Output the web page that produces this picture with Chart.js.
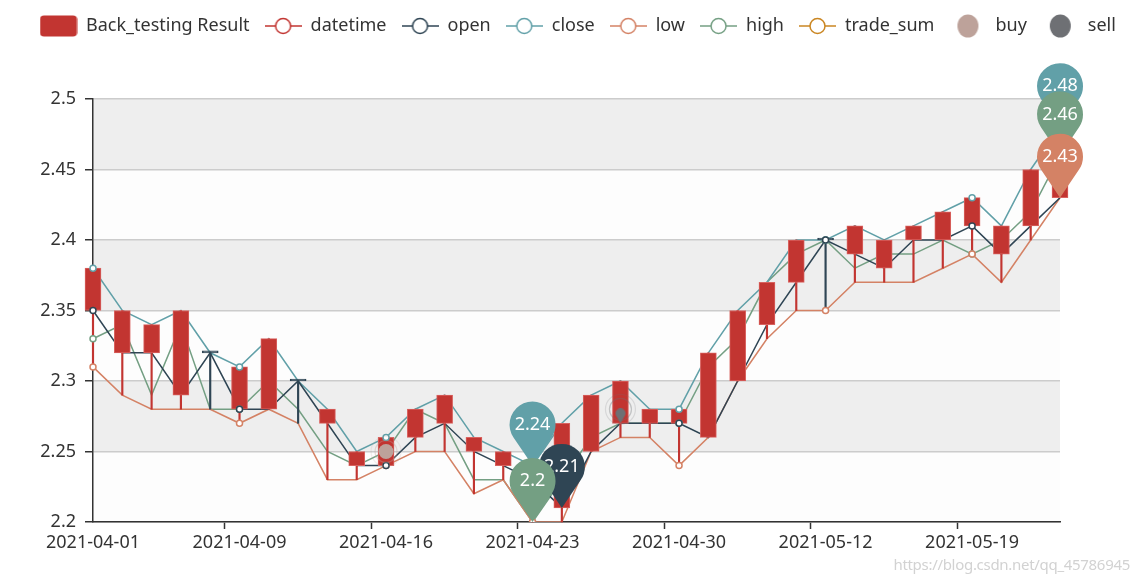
<!DOCTYPE html>
<html>
<head>
<meta charset="utf-8">
<title>Back_testing Result</title>
<script src="https://cdn.jsdelivr.net/npm/chart.js@4.4.1/dist/chart.umd.min.js"></script>
<style>
  html, body { margin: 0; padding: 0; background: #fff; }
  #wrap { position: relative; width: 1138px; height: 583px; }
  #watermark { position: absolute; right: 8px; bottom: 9px; font: 15px "Noto Sans", sans-serif; color: #d2d2d2; letter-spacing: -0.3px; }
</style>
</head>
<body>
<div id="wrap">
  <canvas id="kline" width="1138" height="583"></canvas>
  <div id="watermark">https://blog.csdn.net/qq_45786945</div>
</div>
<script>
// trading days
const dates = ['2021-04-01', '2021-04-02', '2021-04-06', '2021-04-07', '2021-04-08', '2021-04-09',
  '2021-04-12', '2021-04-13', '2021-04-14', '2021-04-15', '2021-04-16',
  '2021-04-19', '2021-04-20', '2021-04-21', '2021-04-22', '2021-04-23',
  '2021-04-26', '2021-04-27', '2021-04-28', '2021-04-29', '2021-04-30',
  '2021-05-06', '2021-05-07', '2021-05-10', '2021-05-11', '2021-05-12',
  '2021-05-13', '2021-05-14', '2021-05-17', '2021-05-18', '2021-05-19',
  '2021-05-20', '2021-05-21', '2021-05-24'];

const openPrices = [2.35, 2.32, 2.32, 2.29, 2.32, 2.28, 2.28, 2.30, 2.27, 2.24, 2.24,
  2.26, 2.27, 2.25, 2.24, 2.23, 2.21, 2.25, 2.27, 2.27, 2.27,
  2.26, 2.30, 2.34, 2.37, 2.40, 2.39, 2.38, 2.40, 2.40, 2.41, 2.39, 2.41, 2.43];
const closePrices = [2.38, 2.35, 2.34, 2.35, 2.32, 2.31, 2.33, 2.30, 2.28, 2.25, 2.26,
  2.28, 2.29, 2.26, 2.25, 2.24, 2.27, 2.29, 2.30, 2.28, 2.28,
  2.32, 2.35, 2.37, 2.40, 2.40, 2.41, 2.40, 2.41, 2.42, 2.43, 2.41, 2.45, 2.48];
const lowPrices = [2.31, 2.29, 2.28, 2.28, 2.28, 2.27, 2.28, 2.27, 2.23, 2.23, 2.24,
  2.25, 2.25, 2.22, 2.23, 2.20, 2.20, 2.25, 2.26, 2.26, 2.24,
  2.26, 2.30, 2.33, 2.35, 2.35, 2.37, 2.37, 2.37, 2.38, 2.39, 2.37, 2.40, 2.43];
const highPrices = [2.33, 2.34, 2.29, 2.34, 2.28, 2.28, 2.30, 2.28, 2.25, 2.24, 2.25,
  2.28, 2.27, 2.23, 2.23, 2.20, 2.23, 2.26, 2.27, 2.27, 2.27,
  2.31, 2.33, 2.37, 2.39, 2.40, 2.38, 2.39, 2.39, 2.40, 2.39, 2.40, 2.42, 2.46];

const buyDates = ['2021-04-16'];
const buyPrices = [2.25];
const sellDates = ['2021-04-28'];
const sellPrices = [2.27];

const yTicks = [2.2, 2.25, 2.3, 2.35, 2.4, 2.45, 2.5];

const FONT = '"Noto Sans", "Open Sans", sans-serif';
const UP = '#c23531';
const DOWN = '#2f4554';
const C_OPEN = '#2f4554', C_CLOSE = '#61a0a8', C_LOW = '#d48265', C_HIGH = '#749f83';
const C_DATE = '#c23531', C_SUM = '#ca8622', C_BUY = '#bda29a', C_SELL = '#6e7074';

// candle pieces built from the price arrays
const candleColors = openPrices.map((o, i) => closePrices[i] > o ? UP : DOWN);
const bodies = openPrices.map((o, i) => [o, closePrices[i]]);
const wicks = openPrices.map((o, i) => [
  Math.min(lowPrices[i], o, closePrices[i]),
  Math.max(highPrices[i], o, closePrices[i])
]);

function onDates(list, values) {
  return dates.map(d => {
    const k = list.indexOf(d);
    return k >= 0 ? values[k] : null;
  });
}

function drawPin(ctx, x, tipY, r, d, color) {
  const cy = tipY - d;
  const phi = Math.acos(r / d);
  ctx.beginPath();
  ctx.moveTo(x, tipY);
  ctx.arc(x, cy, r, Math.PI / 2 + phi, Math.PI / 2 - phi + Math.PI * 2);
  ctx.closePath();
  ctx.fillStyle = color;
  ctx.fill();
}

// legend icons
function lineIcon(color) {
  const c = document.createElement('canvas');
  c.width = 37; c.height = 20;
  const g = c.getContext('2d');
  g.strokeStyle = color;
  g.lineWidth = 1.5;
  g.beginPath(); g.moveTo(0, 10); g.lineTo(37, 10); g.stroke();
  g.beginPath(); g.arc(18.5, 10, 7.5, 0, Math.PI * 2);
  g.fillStyle = '#fff'; g.fill(); g.stroke();
  return c;
}
function rectIcon(color) {
  const c = document.createElement('canvas');
  c.width = 38; c.height = 22;
  const g = c.getContext('2d');
  g.fillStyle = color;
  g.beginPath();
  g.roundRect(0.5, 0.5, 37, 21, 4);
  g.fill();
  return c;
}
function dotIcon(color) {
  const c = document.createElement('canvas');
  c.width = 37; c.height = 24;
  const g = c.getContext('2d');
  g.fillStyle = color;
  g.beginPath(); g.ellipse(18.5, 12, 10.5, 11.5, 0, 0, Math.PI * 2); g.fill();
  return c;
}
function smallPin(color) {
  // tip sits at the canvas centre, so the image lands its tip on the data point
  const c = document.createElement('canvas');
  c.width = 14; c.height = 30;
  drawPin(c.getContext('2d'), 7, 15, 5, 10, color);
  return c;
}

const symbolRadius = ctx => ctx.dataIndex % 5 === 0 ? 3 : 0;

function lineSet(label, values, color) {
  return { type: 'line', label: label, data: values, borderColor: color, borderWidth: 1.5,
    pointRadius: 0, tension: 0, order: 3, legendIcon: lineIcon(color) };
}
function symbolSet(values, color) {
  return { type: 'line', label: '', data: values, showLine: false, pointRadius: symbolRadius,
    pointBackgroundColor: '#fff', pointBorderColor: color, pointBorderWidth: 1.5, order: -1 };
}

const datasets = [
  { type: 'bar', label: 'Back_testing Result', data: bodies, grouped: false, barThickness: 16,
    backgroundColor: candleColors, borderColor: candleColors.map(c => c === UP ? '#d9625f' : DOWN),
    borderWidth: 1, borderSkipped: false, minBarLength: 2, clip: false, order: 0,
    legendIcon: rectIcon(UP) },
  { type: 'line', label: 'datetime', data: [], borderColor: C_DATE, order: 5, legendIcon: lineIcon(C_DATE) },
  lineSet('open', openPrices, C_OPEN),
  lineSet('close', closePrices, C_CLOSE),
  lineSet('low', lowPrices, C_LOW),
  lineSet('high', highPrices, C_HIGH),
  { type: 'line', label: 'trade_sum', data: [], borderColor: C_SUM, order: 5, legendIcon: lineIcon(C_SUM) },
  { type: 'line', label: 'buy', data: onDates(buyDates, buyPrices), showLine: false, pointRadius: 7.5,
    pointBackgroundColor: C_BUY, pointBorderWidth: 0, order: -3, legendIcon: dotIcon(C_BUY) },
  { type: 'line', label: 'sell', data: onDates(sellDates, sellPrices), showLine: false, pointRadius: 5,
    pointStyle: smallPin(C_SELL), order: -3, legendIcon: dotIcon(C_SELL) },
  // wicks and series symbols (not in legend)
  { type: 'bar', label: '', data: wicks, grouped: false, barThickness: 1.5, backgroundColor: candleColors,
    borderWidth: 0, clip: false, order: 1 },
  symbolSet(openPrices, C_OPEN),
  symbolSet(closePrices, C_CLOSE),
  symbolSet(lowPrices, C_LOW),
  symbolSet(highPrices, C_HIGH)
];

const markPins = [
  { values: closePrices, pick: 'max', color: C_CLOSE },
  { values: highPrices, pick: 'max', color: C_HIGH },
  { values: lowPrices, pick: 'max', color: C_LOW },
  { values: closePrices, pick: 'min', color: C_CLOSE },
  { values: openPrices, pick: 'min', color: C_OPEN },
  { values: highPrices, pick: 'min', color: C_HIGH }
];

const splitArea = {
  id: 'splitArea',
  beforeDraw(chart) {
    const { ctx, chartArea: a, scales: { y } } = chart;
    ctx.save();
    for (let k = 0; k < y.ticks.length - 1; k++) {
      const y0 = y.getPixelForValue(y.ticks[k].value);
      const y1 = y.getPixelForValue(y.ticks[k + 1].value);
      ctx.fillStyle = k % 2 ? '#eeeeee' : '#fdfdfd';
      ctx.fillRect(a.left, y1, a.right - a.left, y0 - y1);
    }
    ctx.restore();
  }
};

// legend spans the whole canvas in one row, plot starts at y = 99
const legendSpacer = {
  id: 'legendSpacer',
  beforeInit(chart) {
    const fit = chart.legend.fit;
    chart.legend.fit = function () {
      this.maxWidth = 1400;
      fit.bind(chart.legend)();
      this.height = 97;
    };
  },
  afterLayout(chart) {
    chart.legend.left = 25;
    chart.legend.right = 1400;
  }
};

const markLayer = {
  id: 'markLayer',
  afterDatasetsDraw(chart) {
    const { ctx, scales: { x, y } } = chart;
    ctx.save();
    // ripple rings for buy / sell
    [[buyDates, buyPrices, C_BUY, 0], [sellDates, sellPrices, C_SELL, 14]].forEach(([ds, ps, col, lift]) => {
      ds.forEach((d, k) => {
        const px = x.getPixelForValue(dates.indexOf(d));
        const py = y.getPixelForValue(ps[k]) - lift;
        ctx.strokeStyle = col;
        [[11, 0.35], [15, 0.18]].forEach(([r, a]) => {
          ctx.globalAlpha = a;
          ctx.lineWidth = 1.2;
          ctx.beginPath(); ctx.arc(px, py, r, 0, Math.PI * 2); ctx.stroke();
        });
      });
    });
    ctx.globalAlpha = 1;
    const marks = markPins.map(m => {
      const v = m.pick === 'max' ? Math.max(...m.values) : Math.min(...m.values);
      const i = m.values.indexOf(v);
      return { x: x.getPixelForValue(i), y: y.getPixelForValue(v), v: v, color: m.color };
    }).sort((a, b) => a.y - b.y);
    marks.forEach(m => {
      drawPin(ctx, m.x, m.y, 23, 41, m.color);
      ctx.fillStyle = '#fff';
      ctx.font = '18px ' + FONT;
      ctx.textAlign = 'center';
      ctx.textBaseline = 'middle';
      ctx.fillText(String(m.v), m.x, m.y - 41);
    });
    ctx.restore();
  }
};

new Chart(document.getElementById('kline'), {
  type: 'bar',
  data: { labels: dates, datasets: datasets },
  options: {
    responsive: false,
    animation: false,
    devicePixelRatio: 1,
    layout: { padding: { top: 2, right: 78, bottom: 0, left: 0 } },
    plugins: {
      tooltip: { enabled: false },
      legend: {
        position: 'top',
        align: 'start',
        labels: {
          usePointStyle: true,
          pointStyleWidth: 37,
          padding: 15,
          color: '#333',
          font: { family: FONT, size: 18 },
          generateLabels: chart => chart.data.datasets
            .map((ds, i) => ({ ds, i }))
            .filter(o => o.ds.legendIcon)
            .map(o => ({ text: o.ds.label, pointStyle: o.ds.legendIcon, datasetIndex: o.i,
              hidden: false, lineWidth: 0, fillStyle: 'rgba(0,0,0,0)', strokeStyle: 'rgba(0,0,0,0)',
              fontColor: '#333' }))
        }
      }
    },
    scales: {
      x: {
        type: 'category',
        offset: false,
        grid: { display: true, drawOnChartArea: false, drawTicks: true, tickLength: 7, tickWidth: 1.5,
          tickColor: c => c.index % 5 === 0 ? '#333' : 'rgba(0,0,0,0)' },
        border: { display: true, color: '#333', width: 1.5 },
        ticks: { autoSkip: false, maxRotation: 0, padding: 3, color: '#333',
          font: { family: FONT, size: 18 },
          callback: (v, i) => i % 5 === 0 ? dates[i] : '' },
        afterFit: s => { s.height = 61; }
      },
      y: {
        min: yTicks[0],
        max: yTicks[yTicks.length - 1],
        afterBuildTicks: s => { s.ticks = yTicks.map(v => ({ value: v })); },
        grid: { color: '#cccccc', lineWidth: 1.5, tickLength: 8, tickColor: '#333', tickWidth: 1.5 },
        border: { display: true, color: '#333', width: 1.5 },
        ticks: { padding: 9, color: '#333', font: { family: FONT, size: 18 },
          callback: v => String(Number(v.toFixed(2))) },
        afterFit: s => { s.width = 93; }
      }
    }
  },
  plugins: [splitArea, legendSpacer, markLayer]
});
</script>
</body>
</html>
